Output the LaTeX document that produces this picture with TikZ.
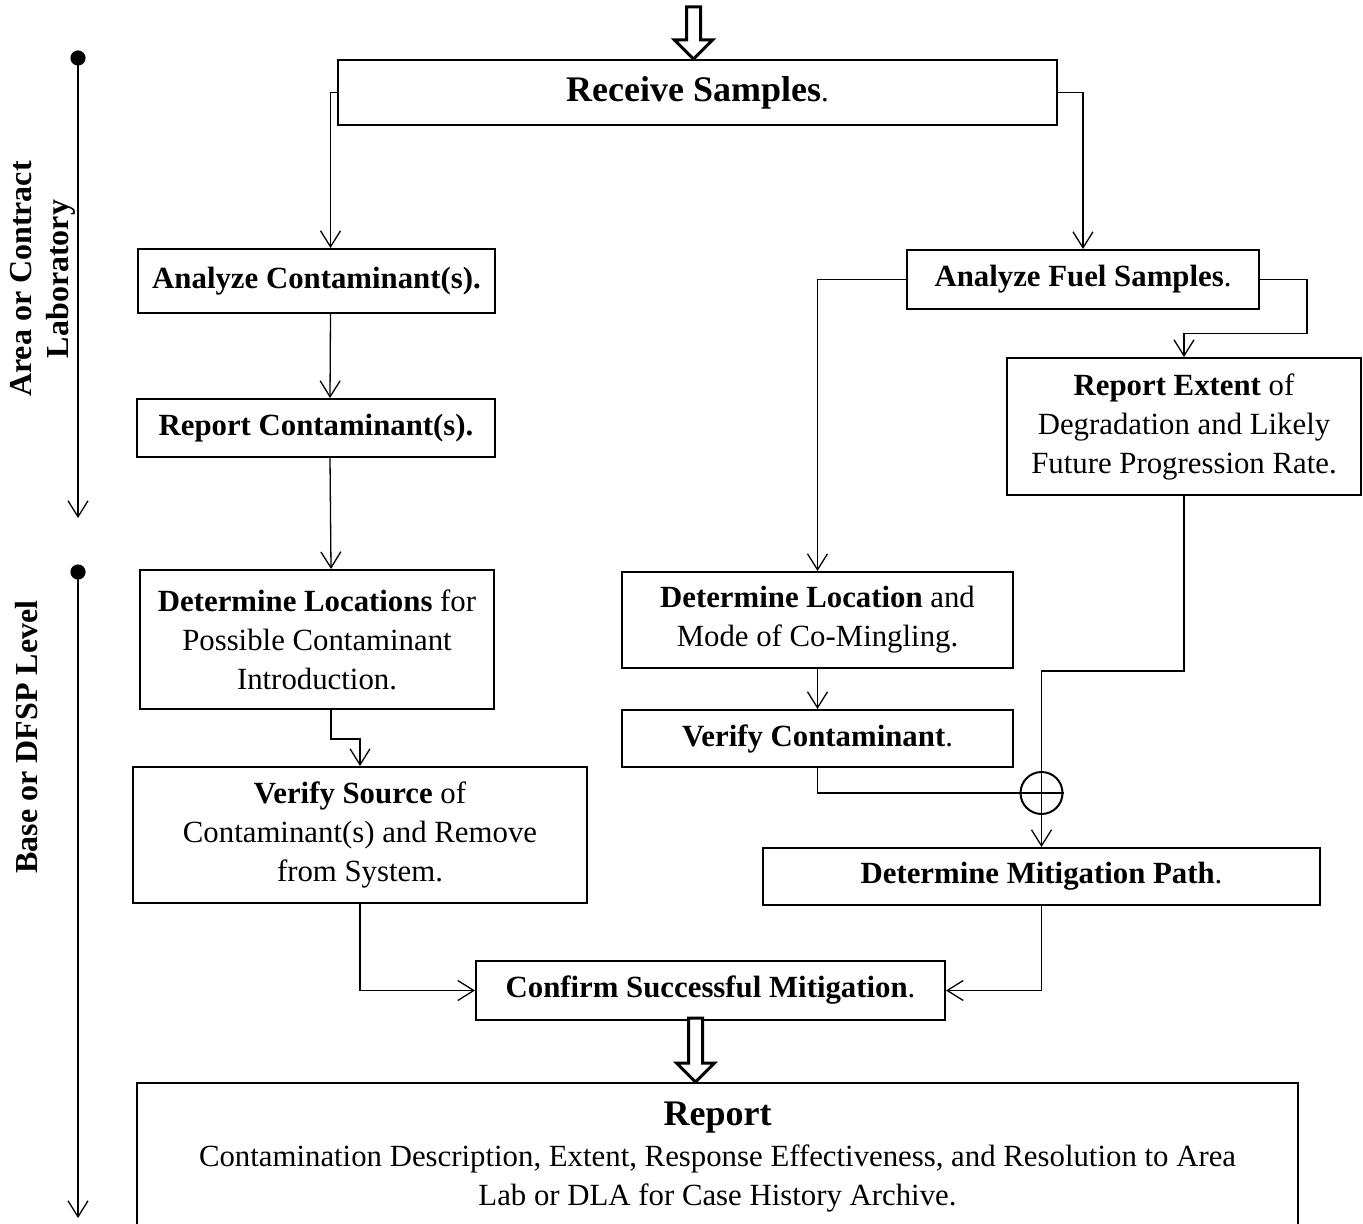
\documentclass[tikz,border=0pt]{standalone}
\usepackage{fontspec}
\setmainfont{Liberation Serif}
\usetikzlibrary{arrows.meta,calc}

\newcommand\headfont{\fontsize{18}{22}\selectfont\bfseries}
\tikzset{
  box/.style={draw, line width=1pt, align=center, inner sep=2pt,
    font=\fontsize{15.4}{19.5}\selectfont},
  arr/.style={line width=0.65pt, -{Straight Barb[length=8pt,width=10pt]}},
  conn/.style={line width=0.65pt},
  hollow/.style={line width=1.5pt, fill=white, line join=miter},
  side/.style={rotate=90, align=center, font=\bfseries\fontsize{16}{18.5}\selectfont},
}
% 白抜きの太い矢印（先端と長さ）
\newcommand\hollowarrow[2]{%
  \draw[hollow, shift={(#1)}] (-7,-#2) -- (-7,-19) -- (-19,-19) -- (0,0)
    -- (19,-19) -- (7,-19) -- (7,-#2) -- cycle;}

\begin{document}
\begin{tikzpicture}[x=0.5pt, y=-0.5pt]
    \useasboundingbox (0,0) rectangle (1363,1224);
    \def\lx{78}

    % 左の流れ
    \node[box, minimum width=359.5pt, minimum height=32.5pt] (recv) at (697.5,92.5)
      {{\headfont Receive Samples}.};
    \node[box, minimum width=178.5pt, minimum height=32pt] (anac) at (316.5,281)
      {\textbf{Analyze Contaminant(s).}};
    \node[box, minimum width=179pt, minimum height=29pt] (repc) at (316,428)
      {\textbf{Report Contaminant(s).}};
    \node[box, minimum width=177pt, minimum height=69.5pt] (detl) at (317,639.5)
      {\textbf{Determine Locations} for\\Possible Contaminant\\Introduction.};
    \node[box, minimum width=227pt, minimum height=68pt] (vsrc) at (360,835)
      {\textbf{Verify Source} of\\Contaminant(s) and Remove\\from System.};

    % 右の流れ
    \node[box, minimum width=176pt, minimum height=29.5pt] (anaf) at (1083,279.5)
      {\textbf{Analyze Fuel Samples}.};
    \node[box, minimum width=177pt, minimum height=68.5pt] (rext) at (1184,426.5)
      {\textbf{Report Extent} of\\Degradation and Likely\\Future Progression Rate.};
    \node[box, minimum width=195.5pt, minimum height=48pt] (detm) at (817.5,620)
      {\textbf{Determine Location} and\\Mode of Co-Mingling.};
    \node[box, minimum width=195.5pt, minimum height=28.5pt] (vcon) at (817.5,738.5)
      {\textbf{Verify Contaminant}.};
    \node[box, minimum width=278.5pt, minimum height=28.5pt] (mit) at (1041.5,876.5)
      {\textbf{Determine Mitigation Path}.};

    % 下
    \node[box, minimum width=234.5pt, minimum height=29.5pt] (conf) at (710.5,990.5)
      {\textbf{Confirm Successful Mitigation}.};
    \node[box, minimum width=580.5pt, minimum height=74pt] (rep) at (717.5,1157)
      {{\headfont Report}\\[1pt]
       Contamination Description, Extent, Response Effectiveness, and Resolution to Area\\
       Lab or DLA for Case History Archive.};

    % 合流点
    \node[draw, circle, line width=1pt, minimum size=21pt, inner sep=0pt] (join) at (1041.5,793) {};

    % 接続
    \draw[arr] (recv.west) -| ([xshift=7pt]anac.north);
    \draw[arr] ([xshift=7pt]anac.south) -- ([xshift=7pt]repc.north);
    \draw[arr] ([xshift=7pt]repc.south) -- ([xshift=7pt]detl.north);
    \draw[arr] ([xshift=7pt]detl.south) -- ++(0,29) -| (vsrc.north);
    \draw[arr] (vsrc.south) |- (conf.west);
    \draw[arr] (recv.east) -| (anaf.north);
    \draw[arr] (anaf.west) -| (detm.north);
    \draw[arr] (anaf.east) -| ++(47,54) -| (rext.north);
    \draw[arr] (detm.south) -- (vcon.north);
    \draw[arr] (rext.south) -- ++(0,175) -| (mit.north);
    \draw[conn] (vcon.south) |- (join.east);
    \draw[arr] (mit.south) |- (conf.east);

    % 太い矢印
    \coordinate (recvin) at ([xshift=-2pt]recv.north);
    \hollowarrow{recvin}{52}
    \coordinate (repin) at ([xshift=-11pt]rep.north);
    \hollowarrow{repin}{64}

    % 段階
    \coordinate (labtop) at (\lx,58);
    \coordinate (labend) at (\lx,518);
    \coordinate (basetop) at (\lx,572);
    \coordinate (baseend) at (\lx,1218);
    \draw[arr] (labtop) -- (labend);
    \draw[arr] (basetop) -- (baseend);
    \fill (labtop) circle[radius=3.8pt];
    \fill (basetop) circle[radius=3.8pt];
    \node[side] (lablbl) at (43,279) {Area or Contract\\Laboratory};
    \node[side] (baselbl) at (27,737) {Base or DFSP Level};
\end{tikzpicture}
\end{document}
